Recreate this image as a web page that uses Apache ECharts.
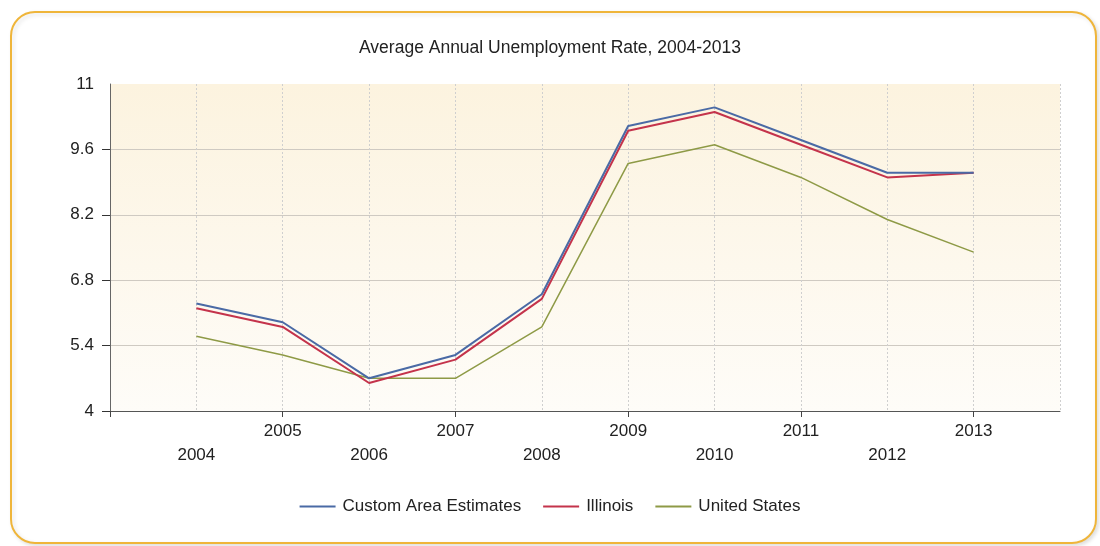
<!DOCTYPE html>
<html>
<head>
<meta charset="utf-8">
<script src="https://cdn.jsdelivr.net/npm/echarts@6/dist/echarts.min.js"></script>
<style>html,body{margin:0;padding:0;background:#fff}#c{width:1100px;height:546px}</style>
</head>
<body>
<div id="c"></div>
<script>
const years = [2004, 2005, 2006, 2007, 2008, 2009, 2010, 2011, 2012, 2013];
const customArea = [6.3, 5.9, 4.7, 5.2, 6.5, 10.1, 10.5, 9.8, 9.1, 9.1];
const illinois = [6.2, 5.8, 4.6, 5.1, 6.4, 10.0, 10.4, 9.7, 9.0, 9.1];
const unitedStates = [5.6, 5.2, 4.7, 4.7, 5.8, 9.3, 9.7, 9.0, 8.1, 7.4];
const yTicks = [4, 5.4, 6.8, 8.2, 9.6, 11];
const yTickMarks = [4, 5.4, 6.8, 8.2, 9.6];
const xTickYears = [2003, 2005, 2007, 2009, 2011, 2013];
const xRange = [2003, 2014];

const FONT = 'Liberation Sans';
const pairs = arr => years.map((y, i) => [y, arr[i]]);

const chart = echarts.init(document.getElementById('c'));
chart.setOption({
  animation: false,
  textStyle: { fontFamily: FONT },
  graphic: [{
    type: 'rect', z: -10,
    shape: { x: 11, y: 12, width: 1085, height: 531, r: 24 },
    style: { fill: '#ffffff', stroke: '#efb53a', lineWidth: 2,
      shadowColor: 'rgba(0,0,0,0.12)', shadowBlur: 4, shadowOffsetX: 2, shadowOffsetY: 2 }
  }],
  title: {
    text: 'Average Annual Unemployment Rate, 2004-2013',
    left: 'center', top: 34,
    textStyle: { fontFamily: FONT, fontSize: 17.5, fontWeight: 'normal', color: '#222' }
  },
  legend: {
    bottom: 26, left: 'center',
    icon: 'rect', itemWidth: 36, itemHeight: 2, itemGap: 22,
    textStyle: { fontFamily: FONT, fontSize: 17, color: '#222', padding: [0, 0, 0, 2] },
    data: ['Custom Area Estimates', 'Illinois', 'United States']
  },
  grid: {
    left: 110, right: 40, top: 84, bottom: 135, show: true, borderWidth: 0,
    backgroundColor: new echarts.graphic.LinearGradient(0, 0, 0, 1, [
      { offset: 0, color: '#fcf3df' }, { offset: 1, color: '#fefcf8' }
    ])
  },
  xAxis: [{
    type: 'value', min: xRange[0], max: xRange[1], interval: 1,
    axisLine: { show: true, lineStyle: { color: '#555', width: 1 } },
    axisTick: { show: false },
    splitLine: { show: true, lineStyle: { color: '#cfcfcf', type: [2, 2], width: 1 } },
    axisLabel: {
      fontFamily: FONT, fontSize: 17, color: '#222', margin: 8, lineHeight: 24,
      formatter: v => (v < years[0] || v > years[years.length - 1]) ? '' : (v % 2 === 0 ? '\n' + v : '' + v)
    }
  }, {
    type: 'value', min: xRange[0], max: xRange[1], position: 'bottom',
    axisLine: { show: false },
    axisLabel: { show: false },
    splitLine: { show: false },
    axisTick: { show: true, customValues: xTickYears, length: 6, lineStyle: { color: '#444' } }
  }],
  yAxis: {
    type: 'value', min: 4, max: 11,
    axisLine: { show: true, lineStyle: { color: '#666', width: 1 } },
    axisTick: { show: true, customValues: yTickMarks, length: 8, lineStyle: { color: '#333' } },
    axisLabel: { customValues: yTicks, fontFamily: FONT, fontSize: 17, color: '#222', margin: 16 },
    splitLine: { show: true, lineStyle: { color: '#cfcac2', width: 1 } }
  },
  series: [
    { name: 'Custom Area Estimates', type: 'line', data: pairs(customArea), symbol: 'none',
      lineStyle: { color: '#4a6aa5', width: 2 }, itemStyle: { color: '#4a6aa5' }, z: 4 },
    { name: 'Illinois', type: 'line', data: pairs(illinois), symbol: 'none',
      lineStyle: { color: '#c4334b', width: 2 }, itemStyle: { color: '#c4334b' }, z: 3 },
    { name: 'United States', type: 'line', data: pairs(unitedStates), symbol: 'none',
      lineStyle: { color: '#8e9a46', width: 1.5 }, itemStyle: { color: '#8e9a46' }, z: 2 }
  ]
});
</script>
</body>
</html>
